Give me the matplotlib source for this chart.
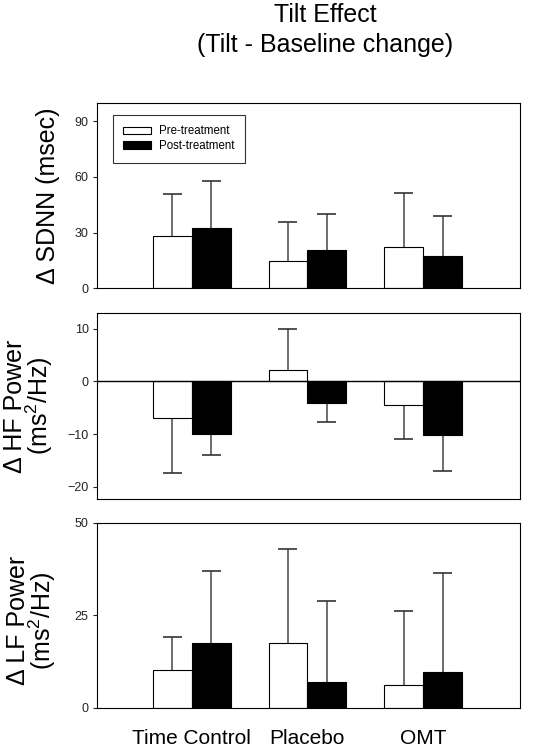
import matplotlib
matplotlib.use("Agg")
import matplotlib.pyplot as plt
import numpy as np

plt.rcParams["font.family"] = ["Liberation Sans", "DejaVu Sans"]
plt.rcParams["mathtext.fontset"] = "custom"
plt.rcParams["mathtext.rm"] = "Liberation Sans"

groups = ["Time Control", "Placebo", "OMT"]

# Tilt - baseline change, means and one-sided error (SD)
sdnn_pre = [28.4, 14.6, 22.5]
sdnn_pre_err = [22.5, 21.0, 28.7]
sdnn_post = [32.7, 20.8, 17.4]
sdnn_post_err = [25.2, 19.1, 21.8]

hf_pre = [-6.9, 2.2, -4.5]
hf_pre_err = [10.4, 7.8, 6.5]
hf_post = [-10.0, -4.2, -10.2]
hf_post_err = [4.0, 3.5, 6.8]

lf_pre = [10.2, 17.4, 6.1]
lf_pre_err = [9.0, 25.4, 20.0]
lf_post = [17.4, 6.9, 9.6]
lf_post_err = [19.5, 22.0, 26.7]

panels = [
    (sdnn_pre, sdnn_pre_err, sdnn_post, sdnn_post_err, "\u0394 SDNN (msec)", (0, 100), [0, 30, 60, 90]),
    (hf_pre, hf_pre_err, hf_post, hf_post_err, "\u0394 HF Power\n(ms$^2$/Hz)", (-22.3, 13), [-20, -10, 0, 10]),
    (lf_pre, lf_pre_err, lf_post, lf_post_err, "\u0394 LF Power\n(ms$^2$/Hz)", (0, 50), [0, 25, 50]),
]

W, H = 551, 756
fig = plt.figure(figsize=(W / 100, H / 100), dpi=100)

# axes boxes in pixels: (top, bottom)
boxes = [(102.7, 288.3), (312.7, 499.0), (522.7, 707.7)]
left_px, right_px = 97, 520
label_x = [-0.087, -0.099, -0.092]

x = np.arange(1, 4)
w = 0.336
cap = 0.082
err_color = "#555555"

for i, (pre, pre_e, post, post_e, ylabel, ylim, yticks) in enumerate(panels):
    top, bot = boxes[i]
    ax = fig.add_axes([left_px / W, 1 - bot / H, (right_px - left_px) / W, (bot - top) / H])

    for xs, vals, errs, fc, lab in [(x - w / 2, pre, pre_e, "white", "Pre-treatment"),
                                    (x + w / 2, post, post_e, "black", "Post-treatment")]:
        vals = np.array(vals)
        ends = vals + np.sign(vals) * np.array(errs)
        ax.vlines(xs, vals, ends, color=err_color, lw=1.2, zorder=1)
        ax.hlines(ends, xs - cap, xs + cap, color="#333333", lw=1.2, zorder=1)
        ax.bar(xs, vals, width=w, color=fc, edgecolor="black", linewidth=0.8, zorder=2, label=lab)

    if ylim[0] < 0:
        ax.axhline(0, color="black", lw=1, zorder=3)

    ax.set_xlim(0.181, 3.838)
    ax.set_ylim(*ylim)
    ax.set_yticks(yticks)
    ax.tick_params(axis="y", labelsize=9, length=3, width=0.8, pad=3, colors="#222222")
    for s in ax.spines.values():
        s.set_linewidth(0.8)

    ax.set_ylabel(ylabel, fontsize=18, linespacing=0.85)
    ax.yaxis.set_label_coords(label_x[i], 0.5 if i < 2 else 0.47)

    if i == 2:
        ax.set_xticks(x)
        ax.set_xticklabels(groups, fontsize=15)
        ax.tick_params(axis="x", length=0, pad=15)
    else:
        ax.set_xticks([])

    if i == 0:
        leg = ax.legend(loc="upper left", bbox_to_anchor=(0.037, 0.934), borderaxespad=0,
                        fontsize=8.3, frameon=True, fancybox=False, edgecolor="black",
                        handlelength=2.4, handleheight=0.6, borderpad=0.9,
                        labelspacing=0.25, handletextpad=0.7)
        leg.get_frame().set_linewidth(0.8)

fig.text(325 / W, 1 - 30 / H, "Tilt Effect\n(Tilt - Baseline change)", ha="center", va="center",
         fontsize=18, linespacing=1.3)

fig.savefig("out.png", dpi=100)
